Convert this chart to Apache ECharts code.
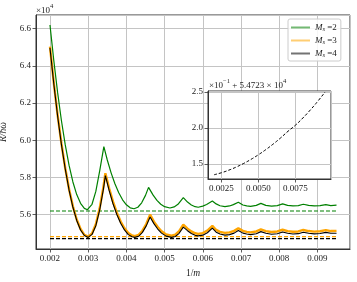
<!DOCTYPE html>
<html>
<head>
<meta charset="utf-8">
<script src="https://cdn.jsdelivr.net/npm/echarts@6/dist/echarts.min.js"></script>
<style>html,body{margin:0;padding:0;background:#fff}#c{width:357px;height:282px}</style>
</head>
<body>
<div id="c"></div>
<script>
// ---- data (x in 1/m, y in units of 1e4) ----
const greenX = [0.0020,0.0021,0.0022,0.0023,0.0024,0.0025,0.0026,0.0027,0.0028,0.0029,0.00298,0.0031,0.0032,0.0033,0.00341,
  0.0035,0.0036,0.0037,0.0038,0.0039,0.0040,0.0041,0.0042,0.0043,0.0044,0.0045,0.00458,
  0.0047,0.0048,0.0049,0.0050,0.00514,0.00525,0.00535,0.00549,
  0.0056,0.0057,0.0058,0.00588,0.0060,0.0061,0.00625,
  0.00635,0.00645,0.00658,0.0067,0.0068,0.00693,
  0.00705,0.00715,0.00725,0.0074,0.00752,
  0.00765,0.0078,0.00795,0.00809,
  0.00822,0.00836,0.0085,0.00863,
  0.00877,0.00892,0.00907,0.00922,0.00935,0.0095];
const greenY = [6.620,6.428,6.256,6.105,5.975,5.865,5.776,5.708,5.661,5.634,5.627,5.656,5.725,5.834,5.966,
  5.894,5.825,5.766,5.718,5.680,5.653,5.637,5.632,5.640,5.664,5.704,5.747,
  5.705,5.677,5.656,5.643,5.636,5.642,5.656,5.692,
  5.668,5.652,5.643,5.640,5.646,5.655,5.674,
  5.658,5.648,5.643,5.647,5.654,5.667,
  5.652,5.647,5.645,5.650,5.661,
  5.650,5.646,5.649,5.658,
  5.650,5.647,5.649,5.656,
  5.650,5.647,5.649,5.654,5.649,5.651];
const obX = [0.0020,0.0021,0.0022,0.0023,0.0024,0.0025,0.0026,0.0027,0.0028,0.0029,0.0030,0.0031,0.0032,0.0033,0.0034,0.00345,
  0.00355,0.00365,0.00375,0.00385,0.00395,0.00405,0.00415,0.00422,0.00432,0.00442,0.00452,0.00462,
  0.00472,0.00482,0.00492,0.00504,0.00518,0.00528,0.00538,0.00549,
  0.0056,0.0057,0.0058,0.00588,0.0060,0.00612,0.00625,
  0.00635,0.00645,0.00658,0.0067,0.00682,0.00693,
  0.00705,0.00715,0.00725,0.0074,0.00752,
  0.00765,0.0078,0.00795,0.00809,
  0.00822,0.00836,0.0085,0.00863,
  0.00877,0.00892,0.00907,0.00922,0.00935,0.0095];
const orangeY = [6.503,6.309,6.135,5.982,5.850,5.737,5.645,5.574,5.523,5.492,5.482,5.499,5.549,5.634,5.751,5.823,
  5.741,5.670,5.611,5.563,5.527,5.501,5.488,5.485,5.492,5.514,5.550,5.600,
  5.563,5.534,5.511,5.494,5.487,5.493,5.511,5.546,
  5.525,5.510,5.500,5.497,5.501,5.515,5.540,
  5.518,5.508,5.502,5.505,5.513,5.527,
  5.513,5.508,5.505,5.510,5.521,
  5.512,5.507,5.510,5.519,
  5.512,5.508,5.510,5.518,
  5.512,5.509,5.511,5.517,5.512,5.513];
const blackY = [6.497,6.304,6.130,5.977,5.845,5.732,5.640,5.569,5.518,5.488,5.478,5.494,5.541,5.624,5.739,5.810,
  5.729,5.659,5.601,5.554,5.518,5.493,5.481,5.478,5.484,5.505,5.540,5.588,
  5.552,5.523,5.501,5.485,5.478,5.483,5.500,5.533,
  5.514,5.499,5.489,5.486,5.490,5.503,5.528,
  5.506,5.496,5.490,5.493,5.501,5.515,
  5.501,5.496,5.493,5.498,5.509,
  5.500,5.495,5.498,5.507,
  5.500,5.496,5.498,5.506,
  5.500,5.497,5.499,5.505,5.500,5.500];
const levelX = [0.002, 0.0095];
const greenLevel = 5.620, orangeLevel = 5.482, blackLevel = 5.471;
const insetX = [0.0020,0.0025,0.0030,0.0035,0.0040,0.0045,0.0050,0.0055,0.0060,0.0065,0.0070,0.0075,0.0080,0.0085,0.0090,0.0095];
const insetY = [1.352,1.380,1.416,1.459,1.509,1.566,1.630,1.701,1.779,1.864,1.956,2.040,2.140,2.250,2.370,2.500];
const seriesNames = ['Ms=2','Ms=3','Ms=4'];
const colors = ['#008000','#ffa500','#000000'];

const F = 'Liberation Serif';
const zip = (xs, ys) => xs.map((x,i)=>[x, ys[i]]);
const lvl = (v) => levelX.map(x=>[x, v]);

const chart = echarts.init(document.getElementById('c'), null, {renderer:'canvas'});
const axisCommon = {
  axisLine:{show:true,lineStyle:{color:'#333',width:1}},
  axisTick:{show:true,length:3.5,inside:false,lineStyle:{color:'#333',width:0.8}},
  splitLine:{show:true,lineStyle:{color:'#c4c4c4',width:1}},
};
chart.setOption({
  animation:false,
  textStyle:{fontFamily:F},
  grid:[
    {left:36,top:15,right:7,bottom:33,show:true,borderColor:'#333',borderWidth:1,backgroundColor:'transparent',outerBoundsMode:'none',containLabel:false},
    {left:208,top:91,width:123,height:88,show:true,borderColor:'#333',borderWidth:1,backgroundColor:'#fff',z:5,outerBoundsMode:'none',containLabel:false}
  ],
  xAxis:[
    Object.assign({type:'value',gridIndex:0,min:0.001634,max:0.009853,minInterval:0.001,maxInterval:0.001,
      name:'{a|1/}{i|m}',nameLocation:'middle',nameGap:19,
      nameTextStyle:{fontFamily:F,fontSize:9.5,color:'#222',rich:{a:{fontFamily:F,fontSize:9.5},i:{fontFamily:F,fontSize:9.5,fontStyle:'italic'}}},
      axisLabel:{fontFamily:F,fontSize:9,color:'#222',margin:5,showMinLabel:false,showMaxLabel:false,formatter:v=>v.toFixed(3)}}, axisCommon),
    Object.assign({type:'value',gridIndex:1,min:0.00159,max:0.0099,minInterval:0.0025,maxInterval:0.0025,z:6,
      axisLabel:{fontFamily:F,fontSize:9,color:'#222',margin:5,showMinLabel:false,showMaxLabel:false,formatter:v=>v.toFixed(4)}}, axisCommon)
  ],
  yAxis:[
    Object.assign({type:'value',gridIndex:0,min:5.4156,max:6.6736,minInterval:0.2,maxInterval:0.2,
      name:'R/ħω',nameLocation:'middle',nameGap:21,
      nameTextStyle:{fontFamily:F,fontSize:9.5,color:'#222',fontStyle:'italic'},
      axisLabel:{fontFamily:F,fontSize:9,color:'#222',margin:5,showMinLabel:false,showMaxLabel:false,formatter:v=>v.toFixed(1)}}, axisCommon),
    Object.assign({type:'value',gridIndex:1,min:1.293,max:2.514,minInterval:0.5,maxInterval:0.5,z:6,
      axisLabel:{fontFamily:F,fontSize:9,color:'#222',margin:5,showMinLabel:false,showMaxLabel:false,formatter:v=>v.toFixed(1)}}, axisCommon)
  ],
  legend:{
    left:288, top:19, orient:'vertical', itemWidth:19, itemHeight:2, itemGap:2,
    padding:[3,4,2,3], borderColor:'#ccc', borderWidth:1, borderRadius:2, backgroundColor:'rgba(255,255,255,0.85)',
    data: seriesNames.map((n,i)=>({name:n, icon:'rect', itemStyle:{color:colors[i], opacity:0.55}})),
    formatter: n => '{i|M}{s|s} =' + n.split('=')[1],
    textStyle:{fontFamily:F,fontSize:9,color:'#222',lineHeight:11,rich:{
      i:{fontFamily:F,fontSize:9,fontStyle:'italic',lineHeight:11},
      s:{fontFamily:F,fontSize:6.5,fontStyle:'italic',verticalAlign:'bottom',lineHeight:11}}}
  },
  graphic:[
    {type:'text',left:36,top:3,style:{text:'{n|×10}{s|4}',rich:{n:{fontFamily:F,fontSize:9,lineHeight:12,verticalAlign:'bottom',fill:'#222'},s:{fontFamily:F,fontSize:6.5,lineHeight:12,verticalAlign:'top',fill:'#222'}}}},
    {type:'text',left:209,top:78,z:10,style:{text:'{n|×10}{s|−1}{n| + 5.4723 × 10}{s|4}',rich:{n:{fontFamily:F,fontSize:9,lineHeight:12,verticalAlign:'bottom',fill:'#222'},s:{fontFamily:F,fontSize:6.5,lineHeight:12,verticalAlign:'top',fill:'#222'}}}}
  ],
  series:[
    {name:seriesNames[0],type:'line',xAxisIndex:0,yAxisIndex:0,symbol:'none',data:zip(greenX,greenY),lineStyle:{color:colors[0],width:1.2},itemStyle:{color:colors[0]},z:3},
    {name:'l2',type:'line',xAxisIndex:0,yAxisIndex:0,symbol:'none',data:lvl(greenLevel),lineStyle:{color:colors[0],width:1.2,type:[4,2]},z:3},
    {name:seriesNames[1],type:'line',xAxisIndex:0,yAxisIndex:0,symbol:'none',data:zip(obX,orangeY),lineStyle:{color:colors[1],width:2.4},itemStyle:{color:colors[1]},z:3},
    {name:'l3',type:'line',xAxisIndex:0,yAxisIndex:0,symbol:'none',data:lvl(orangeLevel),lineStyle:{color:colors[1],width:1.2,type:[4,2]},z:3},
    {name:seriesNames[2],type:'line',xAxisIndex:0,yAxisIndex:0,symbol:'none',data:zip(obX,blackY),lineStyle:{color:colors[2],width:1.1},itemStyle:{color:colors[2]},z:4},
    {name:'l4',type:'line',xAxisIndex:0,yAxisIndex:0,symbol:'none',data:lvl(blackLevel),lineStyle:{color:colors[2],width:1.2,type:[4,2]},z:4},
    {name:'inset',type:'line',xAxisIndex:1,yAxisIndex:1,symbol:'none',smooth:true,data:zip(insetX,insetY),lineStyle:{color:'#000',width:1,type:[3,2]},z:7}
  ]
});
</script>
</body>
</html>
